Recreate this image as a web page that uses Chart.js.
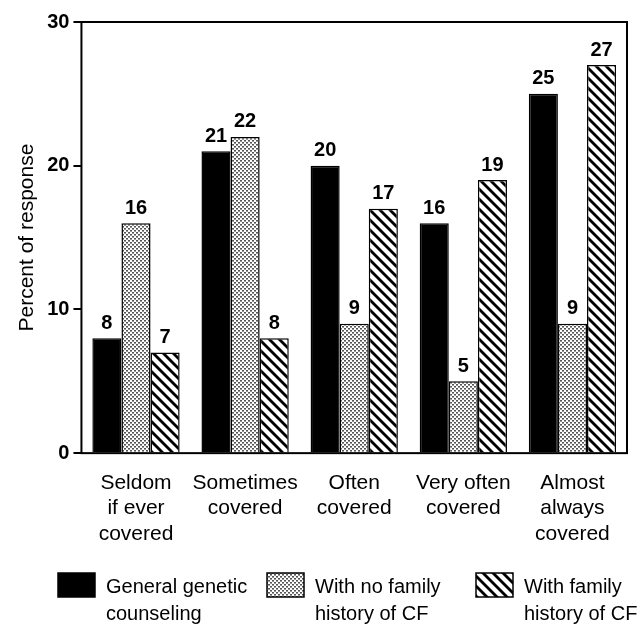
<!DOCTYPE html>
<html>
<head>
<meta charset="utf-8">
<script src="https://cdn.jsdelivr.net/npm/chart.js@4.4.0/dist/chart.umd.min.js"></script>
<style>
  html, body { margin: 0; padding: 0; background: #fff; }
  #wrap { width: 643px; height: 624px; position: relative; }
</style>
</head>
<body>
<div id="wrap"><canvas id="chart" width="643" height="624"></canvas></div>
<script>
const categories = [
  ['Seldom', 'if ever', 'covered'],
  ['Sometimes', 'covered'],
  ['Often', 'covered'],
  ['Very often', 'covered'],
  ['Almost', 'always', 'covered'],
];
const generalCounseling = [8, 21, 20, 16, 25];
const noFamilyHistory = [16, 22, 9, 5, 9];
const withFamilyHistory = [7, 8, 17, 19, 27];
const seriesNames = [
  ['General genetic', 'counseling'],
  ['With no family', 'history of CF'],
  ['With family', 'history of CF'],
];
const yTicks = [0, 10, 20, 30];

const FONT = '"Liberation Sans", Arial, Helvetica, sans-serif';

function dotPattern() {
  const c = document.createElement('canvas');
  c.width = 4; c.height = 4;
  const g = c.getContext('2d');
  g.fillStyle = '#fff';
  g.fillRect(0, 0, 4, 4);
  g.fillStyle = '#555';
  g.fillRect(0, 0, 2, 1);
  g.fillRect(2, 2, 2, 1);
  g.fillStyle = '#999';
  g.fillRect(0, 1, 2, 1);
  g.fillRect(2, 3, 2, 1);
  return g.createPattern(c, 'repeat');
}

function hatchPattern() {
  const s = 10;
  const c = document.createElement('canvas');
  c.width = s; c.height = s;
  const g = c.getContext('2d');
  g.fillStyle = '#fff';
  g.fillRect(0, 0, s, s);
  g.strokeStyle = '#000';
  g.lineWidth = 2.8;
  for (let k = -1; k <= 1; k++) {
    g.beginPath();
    g.moveTo(k * s - 1, -1);
    g.lineTo(k * s + s + 1, s + 1);
    g.stroke();
  }
  return g.createPattern(c, 'repeat');
}

const fills = ['#000', dotPattern(), hatchPattern()];

// numbers above bars
const valueLabels = {
  id: 'valueLabels',
  afterDatasetsDraw(chart) {
    const ctx = chart.ctx;
    ctx.save();
    ctx.font = 'bold 20px ' + FONT;
    ctx.fillStyle = '#000';
    ctx.textAlign = 'center';
    ctx.textBaseline = 'bottom';
    chart.data.datasets.forEach((ds, i) => {
      chart.getDatasetMeta(i).data.forEach((bar, j) => {
        ctx.fillText(ds.data[j], bar.x, bar.y - 5);
      });
    });
    ctx.restore();
  }
};

// box around plot + legend
const frameAndLegend = {
  id: 'frameAndLegend',
  afterDraw(chart) {
    const ctx = chart.ctx;
    const a = chart.chartArea;
    ctx.save();
    ctx.strokeStyle = '#000';
    ctx.lineWidth = 2;
    ctx.strokeRect(a.left, a.top, a.right - a.left, a.bottom - a.top);

    const xs = [58, 267, 476];
    const top = 573;
    ctx.font = '20px ' + FONT;
    ctx.textBaseline = 'middle';
    ctx.textAlign = 'left';
    seriesNames.forEach((lines, i) => {
      ctx.fillStyle = fills[i];
      ctx.fillRect(xs[i], top, 37, 24);
      ctx.lineWidth = 1.5;
      ctx.strokeRect(xs[i], top, 37, 24);
      ctx.fillStyle = '#000';
      lines.forEach((t, k) => ctx.fillText(t, xs[i] + 48, top + 14 + k * 27));
    });
    ctx.restore();
  }
};

new Chart(document.getElementById('chart'), {
  type: 'bar',
  data: {
    labels: categories,
    datasets: [
      { label: seriesNames[0].join(' '), data: generalCounseling, backgroundColor: fills[0] },
      { label: seriesNames[1].join(' '), data: noFamilyHistory, backgroundColor: fills[1] },
      { label: seriesNames[2].join(' '), data: withFamilyHistory, backgroundColor: fills[2] },
    ].map(d => Object.assign(d, { borderColor: '#000', borderWidth: 1.5, borderSkipped: 'bottom' })),
  },
  options: {
    responsive: false,
    animation: false,
    devicePixelRatio: 1,
    layout: { padding: { top: 22, right: 16, left: 15, bottom: 68 } },
    datasets: { bar: { categoryPercentage: 0.8, barPercentage: 1 } },
    plugins: { legend: { display: false }, tooltip: { enabled: false } },
    scales: {
      x: {
        grid: { display: false },
        border: { display: false },
        ticks: {
          color: '#000',
          font: { family: FONT, size: 21, lineHeight: 1.22 },
          padding: 9,
          maxRotation: 0,
          autoSkip: false,
        },
      },
      y: {
        min: 0,
        max: 30,
        afterBuildTicks(axis) { axis.ticks = yTicks.map(v => ({ value: v })); },
        grid: { drawOnChartArea: false, tickLength: 8, color: '#000', lineWidth: 2 },
        border: { display: false },
        ticks: { color: '#000', font: { family: FONT, size: 20, weight: 'bold' }, padding: 4 },
        title: {
          display: true,
          text: 'Percent of response',
          color: '#000',
          font: { family: FONT, size: 21 },
          padding: { top: 0, bottom: 3 },
        },
      },
    },
  },
  plugins: [valueLabels, frameAndLegend],
});
</script>
</body>
</html>
